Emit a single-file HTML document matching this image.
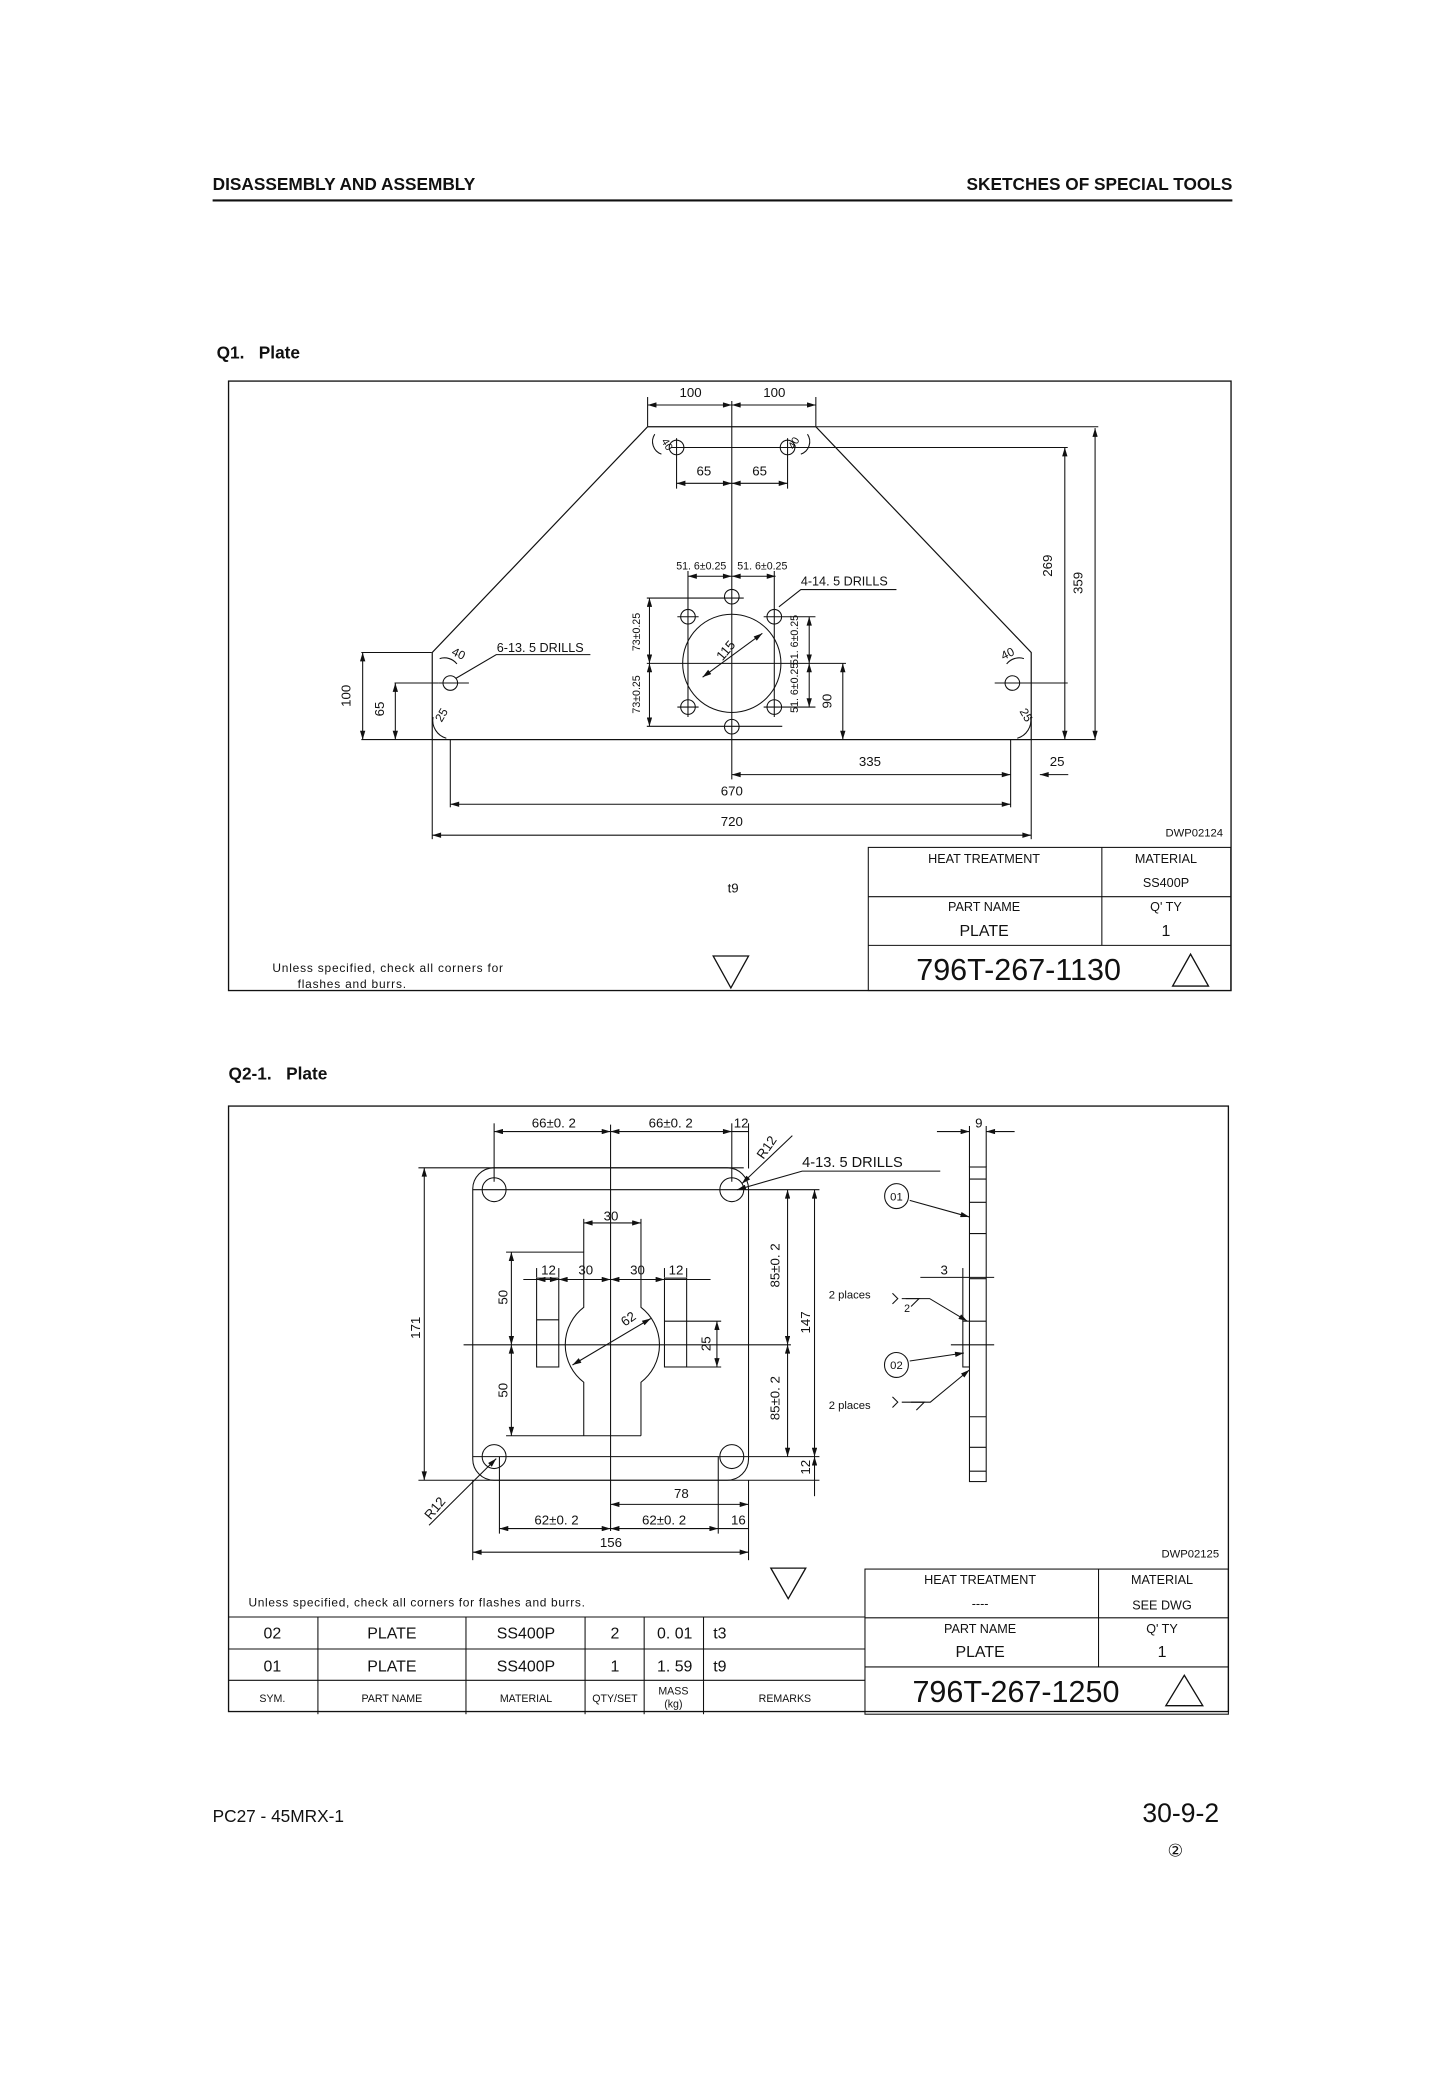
<!DOCTYPE html>
<html><head><meta charset="utf-8"><style>
html,body{margin:0;padding:0;background:#fff;}
svg{display:block;}
text{font-family:"Liberation Sans",sans-serif;fill:#111;}
.d{font-size:10px;text-anchor:middle;}
.s{font-size:8px;}
</style></head><body>
<svg width="1445" height="2082" viewBox="0 0 1088 1568" xmlns="http://www.w3.org/2000/svg">
<defs>
<marker id="a" viewBox="0 0 10 6" refX="10" refY="3" markerWidth="7" markerHeight="4" orient="auto-start-reverse" markerUnits="userSpaceOnUse"><path d="M0,0 L10,3 L0,6z" fill="#111"/></marker>
</defs>
<rect width="1088" height="1568" fill="#fff"/>
<!-- header -->
<text x="160" y="143" style="font-size:13px;font-weight:bold">DISASSEMBLY AND ASSEMBLY</text>
<text x="928" y="143" text-anchor="end" style="font-size:13px;font-weight:bold">SKETCHES OF SPECIAL TOOLS</text>
<line x1="160" y1="151" x2="928" y2="151" stroke="#111" stroke-width="1.6"/>
<text x="163" y="270" style="font-size:13px;font-weight:bold">Q1.&#160;&#160; Plate</text>
<text x="172" y="813" style="font-size:13px;font-weight:bold">Q2-1.&#160;&#160; Plate</text>
<text x="160" y="1372" style="font-size:13px">PC27 - 45MRX-1</text>
<text x="918" y="1372" text-anchor="end" style="font-size:20px">30-9-2</text>
<text x="885" y="1398" text-anchor="middle" style="font-size:13px">②</text>

<g fill="none" stroke="#111" stroke-width="0.8">
<!-- Q1 frame -->
<rect x="172" y="287" width="755" height="459" stroke-width="1"/>
<path d="M487.6 321.4 L614.3 321.4 L776.5 491.4 L776.5 557 L325.4 557 L325.4 491.4 Z" stroke-width="0.9"/>
<line x1="614" y1="321.4" x2="827" y2="321.4"/>
<line x1="505" y1="337" x2="804" y2="337"/>
<line x1="272" y1="557" x2="825" y2="557"/>
<line x1="551" y1="302" x2="551" y2="587"/>
<line x1="487" y1="499.6" x2="637" y2="499.6"/>
<circle cx="509.4" cy="337" r="5.5"/><circle cx="593" cy="337" r="5.5"/>
<circle cx="339" cy="514.4" r="5.5"/><circle cx="762.3" cy="514.4" r="5.5"/>
<line x1="330" y1="514.4" x2="353" y2="514.4"/><line x1="749" y1="514.4" x2="804" y2="514.4"/>
<line x1="509.4" y1="330" x2="509.4" y2="368"/><line x1="593" y1="330" x2="593" y2="368"/>
<circle cx="551" cy="499.6" r="37"/>
<circle cx="518" cy="464.5" r="5.5"/><circle cx="583" cy="464.5" r="5.5"/>
<circle cx="518" cy="532.5" r="5.5"/><circle cx="583" cy="532.5" r="5.5"/>
<circle cx="551" cy="449.4" r="5.5"/><circle cx="551" cy="547.3" r="5.5"/>
<line x1="510" y1="464.5" x2="526" y2="464.5"/><line x1="575" y1="464.5" x2="614" y2="464.5"/>
<line x1="510" y1="532.5" x2="526" y2="532.5"/><line x1="575" y1="532.5" x2="614" y2="532.5"/>
<line x1="518" y1="430" x2="518" y2="540"/><line x1="583" y1="430" x2="583" y2="540"/>
<line x1="487" y1="450.4" x2="560" y2="450.4"/><line x1="487" y1="547" x2="589" y2="547"/>
<!-- dims Q1 -->
<line x1="487.6" y1="299" x2="487.6" y2="321"/><line x1="614.3" y1="299" x2="614.3" y2="321"/>
<line x1="487.6" y1="305" x2="551" y2="305" marker-start="url(#a)" marker-end="url(#a)"/>
<line x1="551" y1="305" x2="614.3" y2="305" marker-start="url(#a)" marker-end="url(#a)"/>
<line x1="509.4" y1="364" x2="551" y2="364" marker-start="url(#a)" marker-end="url(#a)"/>
<line x1="551" y1="364" x2="593" y2="364" marker-start="url(#a)" marker-end="url(#a)"/>
<line x1="518" y1="434" x2="551" y2="434" marker-start="url(#a)" marker-end="url(#a)"/>
<line x1="551" y1="434" x2="584" y2="434" marker-start="url(#a)" marker-end="url(#a)"/>
<line x1="489" y1="450.4" x2="489" y2="499.6" marker-start="url(#a)" marker-end="url(#a)"/>
<line x1="489" y1="499.6" x2="489" y2="547" marker-start="url(#a)" marker-end="url(#a)"/>
<line x1="609.3" y1="464.5" x2="609.3" y2="499.6" marker-start="url(#a)" marker-end="url(#a)"/>
<line x1="609.3" y1="499.6" x2="609.3" y2="532.5" marker-start="url(#a)" marker-end="url(#a)"/>
<line x1="634.6" y1="499.6" x2="634.6" y2="557" marker-start="url(#a)" marker-end="url(#a)"/>
<line x1="529" y1="510" x2="574" y2="477" marker-start="url(#a)" marker-end="url(#a)"/>
<polyline points="586.5,457 603,444 675,444"/>
<polyline points="343,511 373.6,493 444.5,493"/>
<line x1="801.8" y1="337" x2="801.8" y2="557" marker-start="url(#a)" marker-end="url(#a)"/>
<line x1="824.6" y1="322.4" x2="824.6" y2="557" marker-start="url(#a)" marker-end="url(#a)"/>
<line x1="272" y1="491.4" x2="325" y2="491.4"/>
<line x1="273" y1="491.4" x2="273" y2="557" marker-start="url(#a)" marker-end="url(#a)"/>
<line x1="297.6" y1="514.4" x2="297.6" y2="557" marker-start="url(#a)" marker-end="url(#a)"/>
<line x1="297" y1="514.4" x2="330" y2="514.4"/>
<line x1="551" y1="583.4" x2="761" y2="583.4" marker-start="url(#a)" marker-end="url(#a)"/>
<line x1="783" y1="583.4" x2="804.4" y2="583.4" marker-start="url(#a)"/>
<line x1="761" y1="557" x2="761" y2="608"/><line x1="776.5" y1="557" x2="776.5" y2="632"/>
<line x1="339" y1="557" x2="339" y2="608"/><line x1="325.4" y1="557" x2="325.4" y2="632"/>
<line x1="339" y1="605.7" x2="761" y2="605.7" marker-start="url(#a)" marker-end="url(#a)"/>
<line x1="325.4" y1="629" x2="776.5" y2="629" marker-start="url(#a)" marker-end="url(#a)"/>
<!-- corner arcs -->
<path d="M493 327 A10 10 0 0 0 498 342"/><path d="M608 327 A10 10 0 0 1 603 342"/>
<path d="M331 496 A12 12 0 0 1 344 500"/><path d="M771 496 A12 12 0 0 0 758 500"/>
<path d="M326 540 A14 14 0 0 0 336 556"/><path d="M776 540 A14 14 0 0 1 766 556"/>
<!-- Q1 title block -->
<rect x="653.8" y="638.2" width="273" height="107.8"/>
<line x1="653.8" y1="675.3" x2="927" y2="675.3"/><line x1="653.8" y1="712" x2="927" y2="712"/>
<line x1="829.7" y1="638.2" x2="829.7" y2="712"/>
<path d="M883 742.6 L896.5 718.6 L910 742.6 Z" stroke-width="1"/>
<path d="M537 720 L563.6 720 L550.3 744 Z" stroke-width="1"/>

<!-- Q2 frame -->
<rect x="172" y="833" width="753" height="456" stroke-width="1"/>
<rect x="355.9" y="879.5" width="207.7" height="235.3" rx="16"/>
<line x1="315" y1="879.5" x2="560" y2="879.5"/><line x1="315" y1="1114.8" x2="617" y2="1114.8"/>
<line x1="356" y1="896" x2="617" y2="896"/><line x1="356" y1="1097" x2="617" y2="1097"/>
<circle cx="372" cy="896" r="9"/><circle cx="551" cy="896" r="9"/>
<circle cx="372" cy="1097" r="9"/><circle cx="551" cy="1097" r="9"/>
<line x1="459.7" y1="847" x2="459.7" y2="1153"/>
<line x1="349" y1="1012.8" x2="595.5" y2="1012.8"/>
<path d="M439.5 918 L439.5 984.6 A35.5 35.5 0 0 0 439.5 1041 L439.5 1081.3 M482.6 918 L482.6 984.6 A35.5 35.5 0 0 1 482.6 1041 L482.6 1081.3"/>
<line x1="381" y1="1081.3" x2="482.6" y2="1081.3"/><line x1="381" y1="943" x2="439.5" y2="943"/>
<rect x="404" y="962.6" width="16.7" height="66.9"/><line x1="404" y1="994" x2="420.7" y2="994"/>
<rect x="500.3" y="962.6" width="16.7" height="66.9"/><line x1="500.3" y1="995" x2="517" y2="995"/>
<line x1="404" y1="955" x2="404" y2="962"/><line x1="420.7" y1="955" x2="420.7" y2="962"/>
<line x1="500.3" y1="955" x2="500.3" y2="962"/><line x1="517" y1="955" x2="517" y2="962"/>
<line x1="394" y1="963.6" x2="535" y2="963.6"/>
<line x1="404" y1="963.6" x2="420.7" y2="963.6" marker-start="url(#a)" marker-end="url(#a)"/>
<line x1="420.7" y1="963.6" x2="459.7" y2="963.6" marker-start="url(#a)" marker-end="url(#a)"/>
<line x1="459.7" y1="963.6" x2="500.3" y2="963.6" marker-start="url(#a)" marker-end="url(#a)"/>
<line x1="439.5" y1="921" x2="482.6" y2="921" marker-start="url(#a)" marker-end="url(#a)"/>
<line x1="385" y1="943" x2="385" y2="1012.8" marker-start="url(#a)" marker-end="url(#a)"/>
<line x1="385" y1="1012.8" x2="385" y2="1081.3" marker-start="url(#a)" marker-end="url(#a)"/>
<line x1="517" y1="995" x2="543" y2="995"/><line x1="517" y1="1029.5" x2="543" y2="1029.5"/>
<line x1="539.8" y1="995" x2="539.8" y2="1029.5" marker-start="url(#a)" marker-end="url(#a)"/>
<line x1="431" y1="1028" x2="490" y2="993" marker-start="url(#a)" marker-end="url(#a)"/>
<line x1="372" y1="846" x2="372" y2="890"/><line x1="551" y1="846" x2="551" y2="890"/><line x1="563.6" y1="846" x2="563.6" y2="880"/>
<line x1="372" y1="852.2" x2="459.7" y2="852.2" marker-start="url(#a)" marker-end="url(#a)"/>
<line x1="459.7" y1="852.2" x2="551" y2="852.2" marker-start="url(#a)" marker-end="url(#a)"/>
<line x1="551" y1="852.2" x2="563.6" y2="852.2"/>
<line x1="558.6" y1="891.4" x2="596.6" y2="855.3" marker-start="url(#a)"/>
<polyline points="555,896 604,882 708,882" marker-start="url(#a)"/>
<line x1="319.4" y1="879.5" x2="319.4" y2="1114.8" marker-start="url(#a)" marker-end="url(#a)"/>
<line x1="593" y1="896" x2="593" y2="1012.8" marker-start="url(#a)" marker-end="url(#a)"/>
<line x1="593" y1="1012.8" x2="593" y2="1097" marker-start="url(#a)" marker-end="url(#a)"/>
<line x1="613.3" y1="896" x2="613.3" y2="1097" marker-start="url(#a)" marker-end="url(#a)"/>
<line x1="613.3" y1="1097" x2="613.3" y2="1126.8" marker-start="url(#a)"/>
<line x1="373.6" y1="1098.5" x2="323" y2="1148.7" marker-start="url(#a)"/>
<line x1="376" y1="1097" x2="376" y2="1155"/><line x1="540.8" y1="1097" x2="540.8" y2="1155"/>
<line x1="563.6" y1="1114.8" x2="563.6" y2="1175"/><line x1="355.9" y1="1114.8" x2="355.9" y2="1175"/>
<line x1="459.7" y1="1133" x2="563.6" y2="1133" marker-start="url(#a)" marker-end="url(#a)"/>
<line x1="376" y1="1151.2" x2="459.7" y2="1151.2" marker-start="url(#a)" marker-end="url(#a)"/>
<line x1="459.7" y1="1151.2" x2="540.8" y2="1151.2" marker-start="url(#a)" marker-end="url(#a)"/>
<line x1="540.8" y1="1151.2" x2="563.6" y2="1151.2"/>
<line x1="355.9" y1="1169" x2="563.6" y2="1169" marker-start="url(#a)" marker-end="url(#a)"/>
<!-- side view -->
<rect x="730" y="878.9" width="12.6" height="236.9"/>
<line x1="730" y1="848" x2="730" y2="879"/><line x1="742.6" y1="848" x2="742.6" y2="879"/>
<line x1="705.5" y1="852.2" x2="730" y2="852.2" marker-end="url(#a)"/>
<line x1="742.6" y1="852.2" x2="764" y2="852.2" marker-start="url(#a)"/>
<line x1="730" y1="888" x2="742.6" y2="888"/><line x1="730" y1="905.5" x2="742.6" y2="905.5"/>
<line x1="730" y1="929" x2="742.6" y2="929"/><line x1="730" y1="963" x2="742.6" y2="963"/>
<line x1="730" y1="995" x2="742.6" y2="995"/><line x1="730" y1="1067" x2="742.6" y2="1067"/>
<line x1="730" y1="1090" x2="742.6" y2="1090"/><line x1="730" y1="1108" x2="742.6" y2="1108"/>
<rect x="725" y="995" width="5" height="34.5"/>
<line x1="693" y1="962" x2="748.6" y2="962"/>
<line x1="725" y1="955" x2="725" y2="995"/>
<line x1="716" y1="1012.8" x2="748.6" y2="1012.8"/>
<ellipse cx="675.1" cy="900.8" rx="9" ry="9.4"/>
<line x1="685" y1="904" x2="729.9" y2="916.5" marker-end="url(#a)"/>
<ellipse cx="675" cy="1028" rx="9" ry="9.4"/>
<line x1="685" y1="1025" x2="725.8" y2="1019" marker-end="url(#a)"/>
<polyline points="672,974 676,978 672,982"/>
<polyline points="679,978 700,978 728.4,995" marker-end="url(#a)"/>
<polyline points="682,978 692,978 686,984"/>
<polyline points="672,1052 676,1056 672,1060"/>
<polyline points="679,1056 700.5,1056 730,1031.7" marker-end="url(#a)"/>
<polyline points="686,1056 696,1056 690,1062"/>
<!-- Q2 title block -->
<rect x="651.3" y="1181.7" width="273.7" height="109.3"/>
<line x1="651.3" y1="1218.4" x2="925" y2="1218.4"/><line x1="651.3" y1="1255.4" x2="925" y2="1255.4"/>
<line x1="827.2" y1="1181.7" x2="827.2" y2="1255.4"/>
<path d="M877.9 1284.6 L891.8 1261.7 L905.7 1284.6 Z" stroke-width="1"/>
<path d="M580.4 1181 L606.7 1181 L593.5 1204 Z" stroke-width="1"/>
<line x1="172" y1="1217.8" x2="651.3" y2="1217.8"/>
<line x1="172" y1="1241.9" x2="651.3" y2="1241.9"/>
<line x1="172" y1="1265.5" x2="651.3" y2="1265.5"/>
<line x1="239.3" y1="1217.8" x2="239.3" y2="1291"/><line x1="350.8" y1="1217.8" x2="350.8" y2="1291"/>
<line x1="440.5" y1="1217.8" x2="440.5" y2="1291"/><line x1="485" y1="1217.8" x2="485" y2="1291"/>
<line x1="529.7" y1="1217.8" x2="529.7" y2="1291"/>
</g>

<!-- Q1 labels -->
<g class="d">
<text x="520" y="299">100</text><text x="583" y="299">100</text>
<text x="530" y="358">65</text><text x="572" y="358">65</text>
<text x="528" y="429" style="font-size:8px">51. 6±0.25</text><text x="574" y="429" style="font-size:8px">51. 6±0.25</text>
<text x="551" y="599">670</text><text x="551" y="622">720</text>
<text x="655" y="577">335</text><text x="796" y="577">25</text>
<text x="552" y="672">t9</text>
<text transform="translate(792,426) rotate(-90)">269</text>
<text transform="translate(815,439) rotate(-90)">359</text>
<text transform="translate(264,524) rotate(-90)">100</text>
<text transform="translate(289,534) rotate(-90)">65</text>
<text transform="translate(626,528) rotate(-90)">90</text>
<text transform="translate(482,476) rotate(-90)" style="font-size:8px">73±0.25</text>
<text transform="translate(482,523) rotate(-90)" style="font-size:8px">73±0.25</text>
<text transform="translate(601,482) rotate(-90)" style="font-size:8px">51. 6±0.25</text>
<text transform="translate(601,518) rotate(-90)" style="font-size:8px">51. 6±0.25</text>
<text transform="translate(549,492) rotate(-50)">115</text>
<text transform="translate(344,495) rotate(25)" style="font-size:9px">40</text>
<text transform="translate(335,540) rotate(-60)" style="font-size:9px">25</text>
<text transform="translate(760,495) rotate(-25)" style="font-size:9px">40</text>
<text transform="translate(770,540) rotate(60)" style="font-size:9px">25</text>
<text transform="translate(600,335) rotate(-60)" style="font-size:8px">40</text>
<text transform="translate(500,336) rotate(60)" style="font-size:8px">40</text>
</g>
<text x="603" y="441" style="font-size:9.5px">4-14. 5 DRILLS</text>
<text x="374" y="491" style="font-size:9.5px">6-13. 5 DRILLS</text>
<text x="921" y="630" text-anchor="end" style="font-size:8.5px">DWP02124</text>
<g class="d" style="font-size:9.5px">
<text x="741" y="650">HEAT TREATMENT</text>
<text x="878" y="650">MATERIAL</text><text x="878" y="668">SS400P</text>
<text x="741" y="686">PART NAME</text><text x="741" y="705" style="font-size:12px">PLATE</text>
<text x="878" y="686">Q' TY</text><text x="878" y="705" style="font-size:12px">1</text>
</g>
<text x="767" y="738" text-anchor="middle" style="font-size:23px">796T-267-1130</text>
<text x="205" y="732" style="font-size:9px;letter-spacing:0.6px">Unless specified, check all corners for</text>
<text x="224" y="744" style="font-size:9px;letter-spacing:0.6px">flashes and burrs.</text>

<!-- Q2 labels -->
<g class="d">
<text x="417" y="849">66±0. 2</text><text x="505" y="849">66±0. 2</text><text x="558" y="849">12</text>
<text x="460" y="919">30</text>
<text x="413" y="960">12</text><text x="441" y="960">30</text><text x="480" y="960">30</text><text x="509" y="960">12</text>
<text x="513" y="1128">78</text>
<text x="419" y="1148">62±0. 2</text><text x="500" y="1148">62±0. 2</text><text x="556" y="1148">16</text>
<text x="460" y="1165">156</text>
<text x="737" y="849">9</text><text x="711" y="960">3</text>
<text transform="translate(316,1000) rotate(-90)">171</text>
<text transform="translate(382,977) rotate(-90)">50</text>
<text transform="translate(382,1047) rotate(-90)">50</text>
<text transform="translate(535,1012) rotate(-90)">25</text>
<text transform="translate(587,953) rotate(-90)">85±0. 2</text>
<text transform="translate(587,1053) rotate(-90)">85±0. 2</text>
<text transform="translate(610,996) rotate(-90)">147</text>
<text transform="translate(610,1105) rotate(-90)">12</text>
<text transform="translate(475,996) rotate(-35)">62</text>
<text transform="translate(580,866) rotate(-55)">R12</text>
<text transform="translate(330,1138) rotate(-50)">R12</text>
<text x="675" y="904" style="font-size:8.5px">01</text>
<text x="675" y="1031" style="font-size:8.5px">02</text>
<text x="683" y="988" style="font-size:8px">2</text>
</g>
<text x="604" y="879" style="font-size:11px">4-13. 5 DRILLS</text>
<text x="624" y="978" style="font-size:8.5px">2 places</text>
<text x="624" y="1061" style="font-size:8.5px">2 places</text>
<text x="918" y="1173" text-anchor="end" style="font-size:8.5px">DWP02125</text>
<text x="187" y="1210" style="font-size:9px;letter-spacing:0.5px">Unless specified, check all corners for flashes and burrs.</text>
<g class="d" style="font-size:9.5px">
<text x="738" y="1193">HEAT TREATMENT</text><text x="738" y="1211">----</text>
<text x="875" y="1193">MATERIAL</text><text x="875" y="1212">SEE DWG</text>
<text x="738" y="1230">PART NAME</text><text x="738" y="1248" style="font-size:12px">PLATE</text>
<text x="875" y="1230">Q' TY</text><text x="875" y="1248" style="font-size:12px">1</text>
</g>
<text x="765" y="1282" text-anchor="middle" style="font-size:23px">796T-267-1250</text>
<g class="d" style="font-size:12px">
<text x="205" y="1234">02</text><text x="295" y="1234">PLATE</text><text x="396" y="1234">SS400P</text><text x="463" y="1234">2</text><text x="508" y="1234">0. 01</text>
<text x="205" y="1259">01</text><text x="295" y="1259">PLATE</text><text x="396" y="1259">SS400P</text><text x="463" y="1259">1</text><text x="508" y="1259">1. 59</text>
</g>
<text x="537" y="1234" style="font-size:12px">t3</text><text x="537" y="1259" style="font-size:12px">t9</text>
<g class="d" style="font-size:8px">
<text x="205" y="1282">SYM.</text><text x="295" y="1282">PART NAME</text><text x="396" y="1282">MATERIAL</text>
<text x="463" y="1282">QTY/SET</text><text x="507" y="1276">MASS</text><text x="507" y="1286">(kg)</text><text x="591" y="1282">REMARKS</text>
</g>
</svg>
</body></html>
